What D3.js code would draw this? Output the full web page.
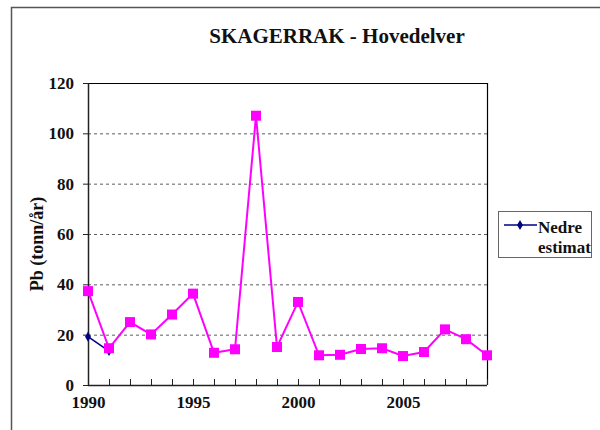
<!DOCTYPE html>
<html><head><meta charset="utf-8">
<script src="https://cdn.jsdelivr.net/npm/d3@7"></script>
<style>body{margin:0;background:#fff}svg{display:block}svg text{font-family:'Liberation Serif','Times New Roman',serif !important;font-weight:bold}</style>
</head><body>
<script>
const years = [1990,1991,1992,1993,1994,1995,1996,1997,1998,1999,2000,2001,2002,2003,2004,2005,2006,2007,2008,2009];
const hovedelver = [37.3,14.6,25,20.1,28,36.3,12.8,14.2,107,15.1,33,11.8,12,14.3,14.6,11.5,13.1,22.1,18.2,11.8];
const nedreYears = [1990,1991];
const nedre = [19.2,13.5];
const yTicks = [0,20,40,60,80,100,120];
const xLabelYears = [1990,1995,2000,2005];

const W=600,H=430;
const svg=d3.select("body").append("svg").attr("width",W).attr("height",H);
const font="'Liberation Serif','Times New Roman',serif";

// outer frame
svg.append("path").attr("d","M11.5,430 L11.5,7.5 L600,7.5").attr("fill","none").attr("stroke","#555").attr("stroke-width",1.5);

const L=88,R=487,T=83,B=385;
const x=d3.scaleLinear().domain([1990,2009]).range([L,R]);
const y=d3.scaleLinear().domain([0,120]).range([B,T]);

// gridlines
svg.append("g").selectAll("line").data(yTicks.filter(d=>d>0&&d<120)).join("line")
 .attr("x1",L).attr("x2",R).attr("y1",d=>y(d)+0.5).attr("y2",d=>y(d)+0.5)
 .attr("stroke","#333").attr("stroke-width",0.8).attr("stroke-dasharray","3,3");

// plot frame top/right
svg.append("path").attr("d",`M${L},${T+0.5} L${R+0.5},${T+0.5} L${R+0.5},${B}`).attr("fill","none").attr("stroke","#000").attr("stroke-width",1.2);

// axes
const yAxis=d3.axisLeft(y).tickValues(yTicks).tickSize(5).tickPadding(9);
const gy=svg.append("g").attr("transform",`translate(${L},0)`).call(yAxis);
const xAxis=d3.axisBottom(x).tickValues(years).tickSize(5).tickPadding(6)
  .tickFormat(d=>xLabelYears.includes(d)?d:"");
const gx=svg.append("g").attr("transform",`translate(0,${B})`).call(xAxis);
[gx,gy].forEach(g=>{
  g.attr("font-family",font);
  g.selectAll("path.domain").attr("stroke","#222").attr("stroke-width",1.5);
  g.selectAll(".tick line").attr("stroke","#222");
  g.selectAll("text").attr("font-weight","bold").attr("font-size",17).attr("fill","#111");
});
gx.selectAll(".tick line").attr("y1",-6).attr("y2",0).attr("stroke-width",1);
gx.select("path.domain").attr("d",`M${L},0.5H${R}`);
gy.select("path.domain").attr("d",`M0.5,${B}V${T}`);

// title
svg.append("text").attr("x",337).attr("y",43).attr("text-anchor","middle")
 .attr("font-family",font).attr("font-weight","bold").attr("font-size",21).attr("fill","#111")
 .text("SKAGERRAK - Hovedelver");
// y label
svg.append("text").attr("transform",`translate(43,${(T+B)/2+10}) rotate(-90)`).attr("text-anchor","middle")
 .attr("font-family",font).attr("font-weight","bold").attr("font-size",18).attr("fill","#111")
 .text("Pb (tonn/år)");

// navy series
const navyData=nedreYears.map((d,i)=>({x:d,v:nedre[i]}));
svg.append("path").datum(navyData).attr("fill","none").attr("stroke","#000080").attr("stroke-width",1.5)
 .attr("d",d3.line().x(d=>x(d.x)).y(d=>y(d.v)));
svg.append("g").selectAll("path").data(navyData).join("path")
 .attr("transform",d=>`translate(${x(d.x)},${y(d.v)})`)
 .attr("d",d3.symbol(d3.symbolDiamond,30)()).attr("fill","#000080");

// magenta series
const magData=years.map((d,i)=>({x:d,v:hovedelver[i]}));
svg.append("path").datum(magData).attr("fill","none").attr("stroke","#ff00ff").attr("stroke-width",2)
 .attr("d",d3.line().x(d=>x(d.x)).y(d=>y(d.v)));
svg.append("g").selectAll("rect").data(magData).join("rect")
 .attr("x",d=>x(d.x)-5).attr("y",d=>y(d.v)-5).attr("width",10).attr("height",10).attr("fill","#ff00ff");

// legend
const lg=svg.append("g");
lg.append("rect").attr("x",498.5).attr("y",211.5).attr("width",93).attr("height",46).attr("fill","#fff").attr("stroke","#666").attr("stroke-width",1);
lg.append("line").attr("x1",504).attr("x2",537).attr("y1",225).attr("y2",225).attr("stroke","#000080").attr("stroke-width",1.5);
lg.append("path").attr("transform","translate(520,225)").attr("d",d3.symbol(d3.symbolDiamond,30)()).attr("fill","#000080");
lg.append("text").attr("x",538).attr("y",233).attr("font-family",font).attr("font-weight","bold").attr("font-size",17).attr("fill","#111").text("Nedre");
lg.append("text").attr("x",538).attr("y",253).attr("font-family",font).attr("font-weight","bold").attr("font-size",17).attr("fill","#111").text("estimat");
</script>
</body></html>
